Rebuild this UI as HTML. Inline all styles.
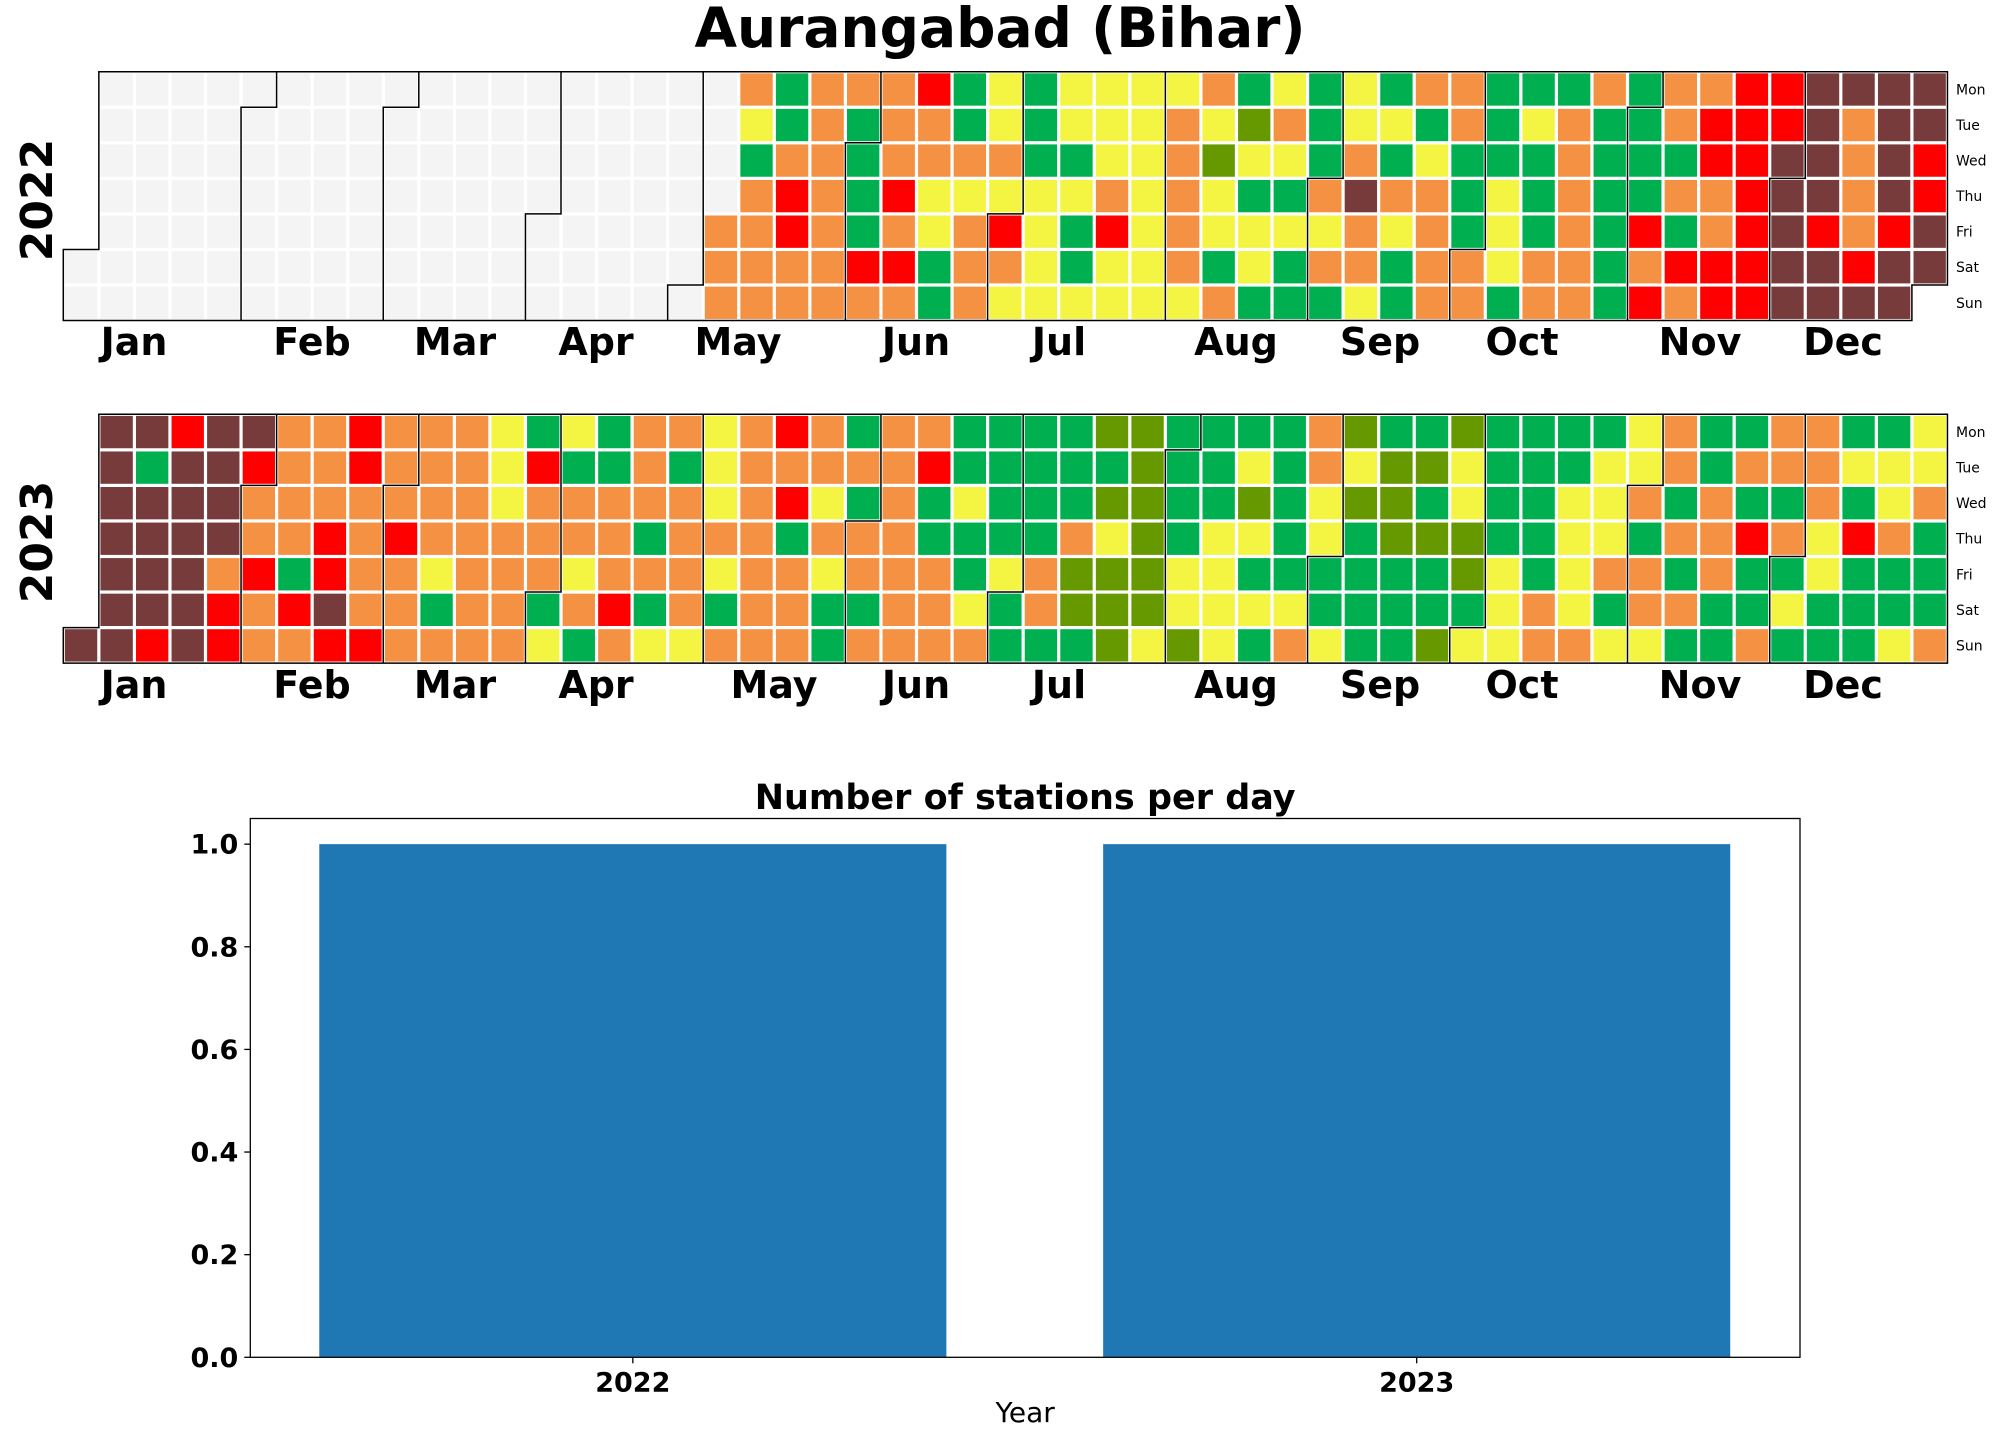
<!DOCTYPE html>
<html><head><meta charset="utf-8"><title>Aurangabad (Bihar)</title>
<style>
html,body{margin:0;padding:0;background:#fff;}
svg{display:block;font-family:"DejaVu Sans","Liberation Sans",sans-serif;}
</style></head>
<body>
<svg id="chart" width="2000" height="1434" viewBox="0 0 2000 1434" xmlns="http://www.w3.org/2000/svg">
<text x="1000" y="47" text-anchor="middle" font-size="55" font-weight="bold">Aurangabad (Bihar)</text>
<g id="cal"></g>
<g id="bars"></g>
</svg>
<script>
// ---- Calendar data: one string per week column, rows Mon..Sun ----
// n=no data, G=green, g=olive, Y=yellow, O=orange, R=red, B=brown, .=outside year
const years = [2022, 2023];
const weeks2022 = [
".....nn","nnnnnnn","nnnnnnn","nnnnnnn","nnnnnnn","nnnnnnn","nnnnnnn","nnnnnnn","nnnnnnn","nnnnnnn",
"nnnnnnn","nnnnnnn","nnnnnnn","nnnnnnn","nnnnnnn","nnnnnnn","nnnnnnn","nnnnnnn","nnnnOOO","OYGOOOO",
"GGORROO","OOOOOOO","OGGGGRO","OOOROROO".slice(0,7),"ROOYYGG","GGOYOOO","YYOYROY","GGGYYYY","YYGYGGY","YYYORYY",
"YYYYYYY","YOOOOOY","OYgYYGO","GgYGYYG","YOYGYGG","GGGOYOG","YYOBOOY","GYGOYGG","OGYOOOO","OOGGGOO",
"GGGYYYG","GYGGGOO","GOOOOOO","OGGGGGG","GGGGROR","OOGOGRO","ORROORR","RRRRRRR","RRBBBBB","BBBBRBB",
"BOOOORB","BBBBRBB","BBRRBB."
];
const weeks2023 = [
"......B","BBBBBBB","BGBBBBR","RBBBBBB","BBBBORR","BROOROO","OOOOGRO","OOORRBR","RROOOOR","OOOROOO",
"OOOOYGO","OOOOOOO","YYYOOOO","GROOOGY","YGOOYOG","GGOOORO","OOOGOGY","OGOOOOY","YYYOYGO","OOOOOOO",
"RORGOOO","OOYOYGG","GOGOOGO","OOOOOOO","ORGGOOO","GGYGGYO","GGGGYGG","GGGGOOG","GGGOggG","gGgYggg",
"ggggggY","GGGGYYg","GGGYYYY","GYgYGYG","GGGGGYO","OOYYGGY","gYgGGGG","GgggGGG","GgGgGGg","gYYggGY",
"GGGGYYY","GGGGGOO","GGYYYYO","GYYYOGY","YYOGOOY","OOGOGOG","GGOOOGG","GOGRGGO","OOGOGYG","OOOYYGG",
"GYGRGGG","GYYOGGY","YYOGGGO"
];
const monthNames = ["Jan","Feb","Mar","Apr","May","Jun","Jul","Aug","Sep","Oct","Nov","Dec"];
const monthLabelX2022 = [134,312,455,596,738,916,1059,1236,1380,1522,1700,1843];
const monthLabelX2023 = [134,312,455,596,774,916,1059,1236,1380,1522,1700,1843];
const dayNames = ["Mon","Tue","Wed","Thu","Fri","Sat","Sun"];

// ---- Bar chart data ----
const barCategories = ["2022","2023"];
const barValues = [1, 1];
const yTicks = [0.0, 0.2, 0.4, 0.6, 0.8, 1.0];
const yTickLabels = ["0.0","0.2","0.4","0.6","0.8","1.0"];

const NS = "http://www.w3.org/2000/svg";
function mk(tag, attrs, parent){const e=document.createElementNS(NS,tag);for(const k in attrs)e.setAttribute(k,attrs[k]);parent.appendChild(e);return e;}
const palette = {n:"#f4f4f4",G:"#00b050",g:"#669900",Y:"#f3f542",O:"#f59143",R:"#ff0000",B:"#783b3b"};

const cal = document.getElementById("cal");
const LEFT = 63.3, PITCH = 35.55, GAP = 3.2;
const grids = [
  {year:2022, weeks:weeks2022, top:71.7, labels:monthLabelX2022, labelY:355, yearY:200},
  {year:2023, weeks:weeks2023, top:414.3, labels:monthLabelX2023, labelY:698, yearY:542}
];
grids.forEach(gd=>{
  const g = mk("g",{},cal);
  
  
  const jan1 = new Date(gd.year,0,1);
  const offset = (jan1.getDay()+6)%7;
  const monthOf = (c,r)=>{
    if(c<0||r<0||r>6||c>=gd.weeks.length) return -1;
    if(gd.weeks[c][r]==='.'||gd.weeks[c][r]===undefined) return -1;
    const d = new Date(gd.year,0,1+c*7+r-offset);
    return d.getFullYear()===gd.year ? d.getMonth() : -1;
  };
  gd.weeks.forEach((col,c)=>{
    for(let r=0;r<7;r++){
      const code = col[r];
      if(code==='.'||!code) continue;
      const rect = mk("rect",{x:LEFT+c*PITCH+GAP/2, y:gd.top+r*PITCH+GAP/2, width:PITCH-GAP, height:PITCH-GAP, fill:palette[code]},g);
      
      
    }
  });
  let path = "";
  gd.weeks.forEach((col,c)=>{
    for(let r=0;r<7;r++){
      const m = monthOf(c,r); if(m<0) continue;
      const x0=LEFT+c*PITCH, y0=gd.top+r*PITCH, x1=x0+PITCH, y1=y0+PITCH;
      if(monthOf(c+1,r)!==m) path+=`M${x1},${y0}L${x1},${y1}`;
      if(monthOf(c-1,r)!==m) path+=`M${x0},${y0}L${x0},${y1}`;
      if(monthOf(c,r+1)!==m) path+=`M${x0},${y1}L${x1},${y1}`;
      if(monthOf(c,r-1)!==m) path+=`M${x0},${y0}L${x1},${y0}`;
    }
  });
  const outline = mk("path",{d:path, stroke:"#000", "stroke-width":1.5, fill:"none", "stroke-linecap":"square"},g);
  
  
  monthNames.forEach((mn,i)=>{
    const t = mk("text",{x:gd.labels[i], y:gd.labelY, "text-anchor":"middle", "font-size":38, "font-weight":"bold"},g);
    t.textContent = mn;
    
    
  });
  dayNames.forEach((dn,r)=>{
    const t = mk("text",{x:1956, y:gd.top+r*PITCH+PITCH/2+5, "font-size":14},g);
    t.textContent = dn;
    
    
  });
  const yl = mk("text",{x:0,y:0,"text-anchor":"middle","font-size":44,"font-weight":"bold",transform:`translate(52,${gd.yearY}) rotate(-90)`},g);
  yl.textContent = String(gd.year);
  
  
});

// ---- Bar chart ----
const bars = document.getElementById("bars");
const AX = {l:250.3, r:1800, t:818.5, b:1357.3};
const xMin=-0.488, xMax=1.489, yMin=0, yMax=1.05;
const xs = v => AX.l + (v-xMin)/(xMax-xMin)*(AX.r-AX.l);
const ys = v => AX.b - (v-yMin)/(yMax-yMin)*(AX.b-AX.t);
barValues.forEach((v,i)=>{
  const b = mk("rect",{x:xs(i-0.4), y:ys(v), width:xs(i+0.4)-xs(i-0.4), height:ys(0)-ys(v), fill:"#1f77b4"},bars);
  
  
});
const frame = mk("rect",{x:AX.l,y:AX.t,width:AX.r-AX.l,height:AX.b-AX.t,fill:"none",stroke:"#000","stroke-width":1.3},bars);


yTicks.forEach((v,i)=>{
  const y = ys(v);
  const tk = mk("line",{x1:AX.l-6,x2:AX.l,y1:y,y2:y,stroke:"#000","stroke-width":1.3},bars);
  
  
  const t = mk("text",{x:AX.l-12,y:y+9.5,"text-anchor":"end","font-size":27,"font-weight":"bold"},bars);
  t.textContent = yTickLabels[i];
  
  
});
barCategories.forEach((c,i)=>{
  const x = xs(i);
  const tk = mk("line",{x1:x,x2:x,y1:AX.b,y2:AX.b+6,stroke:"#000","stroke-width":1.3},bars);
  
  
  const t = mk("text",{x:x,y:AX.b+34,"text-anchor":"middle","font-size":27,"font-weight":"bold"},bars);
  t.textContent = c;
  
  
});
const xt = mk("text",{x:(AX.l+AX.r)/2,y:1422,"text-anchor":"middle","font-size":28},bars);
xt.textContent = "Year";


const bt = mk("text",{x:(AX.l+AX.r)/2,y:809,"text-anchor":"middle","font-size":35,"font-weight":"bold"},bars);
bt.textContent = "Number of stations per day";


</script>
</body></html>
